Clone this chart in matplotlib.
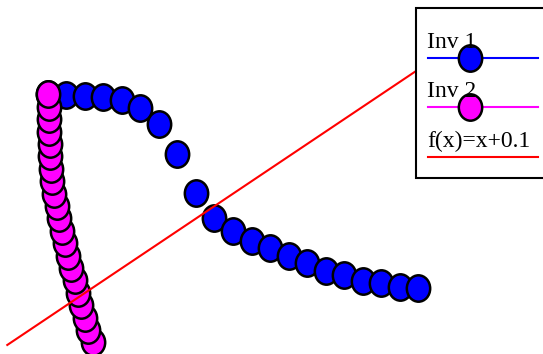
import numpy as np
import matplotlib
matplotlib.use("Agg")
import matplotlib.pyplot as plt
from matplotlib.path import Path
from matplotlib.transforms import Affine2D
from matplotlib.patches import Rectangle
from matplotlib.lines import Line2D

# Inv 1: sampled on a uniform x grid
inv1_x = [0.00, 0.05, 0.10, 0.15, 0.20, 0.25, 0.30, 0.35, 0.40, 0.45, 0.50,
          0.55, 0.60, 0.65, 0.70, 0.75, 0.80, 0.85, 0.90, 0.95, 1.00]
inv1_y = [1.000, 0.998, 0.995, 0.991, 0.978, 0.944, 0.881, 0.759, 0.602, 0.501, 0.450,
          0.409, 0.380, 0.349, 0.319, 0.290, 0.271, 0.249, 0.239, 0.222, 0.221]

# Inv 2: sampled on a uniform y grid (listed bottom to top)
inv2_y = [0.00, 0.05, 0.10, 0.15, 0.20, 0.25, 0.30, 0.35, 0.40, 0.45, 0.50,
          0.55, 0.60, 0.65, 0.70, 0.75, 0.80, 0.85, 0.90, 0.95, 1.00]
inv2_x = [0.122, 0.109, 0.099, 0.089, 0.080, 0.072, 0.062, 0.054, 0.046, 0.038, 0.030,
          0.023, 0.017, 0.012, 0.009, 0.006, 0.005, 0.003, 0.002, 0.002, 0.000]

# f(x) = x + 0.1 over its plotted domain
f_domain = [-0.11, 1.05]
f_offset = 0.1

labels = ["Inv 1", "Inv 2", "f(x)=x+0.1"]
BLUE, MAGENTA, RED = "#0000ff", "#ff00ff", "#ff0000"

# slightly tall elliptical marker
ellipse = Path.unit_circle().transformed(Affine2D().scale(1.0, 1.13))
MS, MEW = 19.0, 1.8

fig = plt.figure(figsize=(5.43, 3.54), dpi=100)
ax = fig.add_axes([0, 0, 1, 1])
ax.set_xlim(-0.1297, 1.3378)
ax.set_ylim(-0.0464, 1.381)
ax.axis("off")

ax.plot(inv1_x, inv1_y, linestyle="none", marker=ellipse, markersize=MS,
        markerfacecolor=BLUE, markeredgecolor="black", markeredgewidth=MEW, zorder=2)
ax.plot(inv2_x, inv2_y, linestyle="none", marker=ellipse, markersize=MS,
        markerfacecolor=MAGENTA, markeredgecolor="black", markeredgewidth=MEW, zorder=3)
fx = np.array(f_domain)
ax.plot(fx, fx + f_offset, color=RED, linewidth=1.5, zorder=4)

# legend box, drawn in pixel-like units inside its own axes
leg = fig.add_axes([415 / 543, (354 - 178) / 354, (548 - 415) / 543, (178 - 7) / 354])
leg.set_xlim(0, 133)
leg.set_ylim(171, 0)
leg.axis("off")
leg.add_patch(Rectangle((0.5, 0.5), 140, 170, facecolor="white", edgecolor="black",
                        linewidth=1.5, clip_on=False))

font = dict(family="Liberation Serif", fontsize=17, color="black")
entries = [(labels[0], BLUE, True, 41, 51.3),
           (labels[1], MAGENTA, True, 89.7, 100.3),
           (labels[2], RED, False, 139.7, 149.7)]
for text, col, has_marker, base_y, line_y in entries:
    leg.text(12, base_y, text, va="baseline", ha="left", **font)
    leg.add_line(Line2D([13, 123], [line_y, line_y], color=col, linewidth=1.5))
    if has_marker:
        leg.add_line(Line2D([55], [line_y], linestyle="none", marker=ellipse, markersize=MS,
                            markerfacecolor=col, markeredgecolor="black",
                            markeredgewidth=MEW))

fig.savefig("out.png", dpi=100)
